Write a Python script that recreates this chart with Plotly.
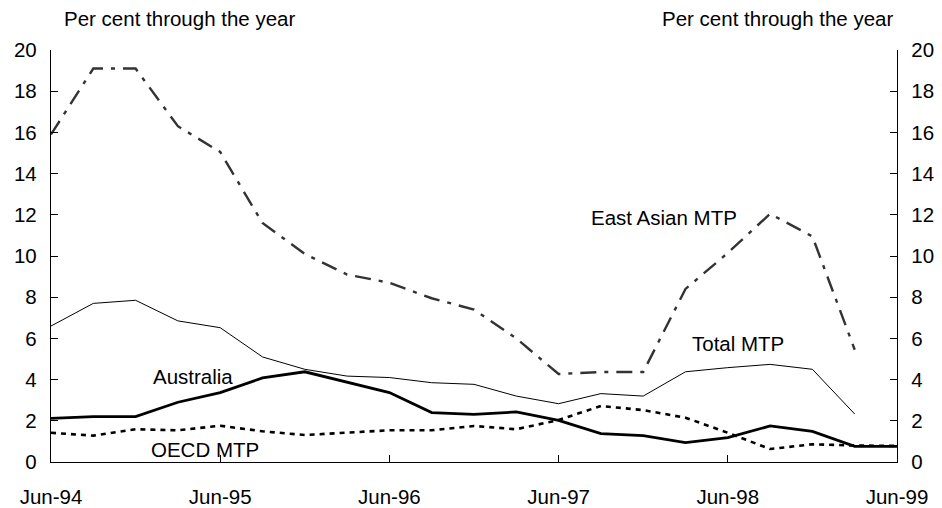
import plotly.graph_objects as go

quarters = ["Jun-94", "Sep-94", "Dec-94", "Mar-95", "Jun-95", "Sep-95", "Dec-95", "Mar-96",
            "Jun-96", "Sep-96", "Dec-96", "Mar-97", "Jun-97", "Sep-97", "Dec-97", "Mar-98",
            "Jun-98", "Sep-98", "Dec-98", "Mar-99", "Jun-99"]
tick_labels = ["Jun-94", "Jun-95", "Jun-96", "Jun-97", "Jun-98", "Jun-99"]

east_asian = [15.9, 19.1, 19.1, 16.3, 15.05, 11.6, 10.1, 9.1, 8.7, 7.95, 7.4, 6.0, 4.27,
              4.37, 4.37, 8.4, 10.15, 12.05, 10.95, 5.45]
total_mtp = [6.6, 7.7, 7.85, 6.85, 6.52, 5.1, 4.5, 4.17, 4.1, 3.85, 3.77, 3.2, 2.83,
             3.32, 3.2, 4.38, 4.58, 4.74, 4.5, 2.33]
australia = [2.12, 2.2, 2.2, 2.9, 3.37, 4.08, 4.38, 3.88, 3.37, 2.4, 2.31, 2.43, 2.02,
             1.38, 1.28, 0.94, 1.18, 1.75, 1.49, 0.76, 0.76]
oecd_mtp = [1.42, 1.28, 1.59, 1.54, 1.76, 1.49, 1.31, 1.42, 1.54, 1.54, 1.75, 1.59, 2.04,
            2.72, 2.52, 2.15, 1.42, 0.63, 0.86, 0.8, 0.78]

FONT = "Liberation Sans, Arial, sans-serif"
FS = 20.5

fig = go.Figure()
fig.add_trace(go.Scatter(x=quarters[:len(east_asian)], y=east_asian, mode="lines",
                         line=dict(color="#333333", width=2.4, dash="16px,8px,4px,8px"),
                         name="East Asian MTP"))
fig.add_trace(go.Scatter(x=quarters[:len(total_mtp)], y=total_mtp, mode="lines",
                         line=dict(color="black", width=1), name="Total MTP"))
fig.add_trace(go.Scatter(x=quarters, y=australia, mode="lines",
                         line=dict(color="black", width=2.8), name="Australia"))
fig.add_trace(go.Scatter(x=quarters, y=oecd_mtp, mode="lines",
                         line=dict(color="black", width=2.6, dash="5px,5px"),
                         name="OECD MTP"))
# invisible trace to activate right axis
fig.add_trace(go.Scatter(x=quarters, y=oecd_mtp, yaxis="y2", mode="lines",
                         line=dict(width=0), opacity=0, hoverinfo="skip", showlegend=False))

axis_common = dict(showline=True, linecolor="black", linewidth=1.3, ticks="inside",
                   ticklen=7, tickcolor="black", showgrid=False, zeroline=False,
                   automargin=False, tickfont=dict(size=FS))

# page body has an 8px margin, so the figure is sized to fit the window after it
fig.update_layout(
    width=934, height=500,
    margin=dict(l=43, r=45, t=42, b=46),
    paper_bgcolor="white", plot_bgcolor="white",
    showlegend=False,
    font=dict(family=FONT, size=FS, color="black"),
    xaxis=dict(type="category", categoryorder="array", categoryarray=quarters,
               range=[0, 20], tickmode="array", tickvals=tick_labels, ticktext=tick_labels,
               ticklabelstandoff=16, **axis_common),
    yaxis=dict(range=[0, 20], dtick=2, ticklabelstandoff=9, **axis_common),
    yaxis2=dict(range=[0, 20], dtick=2, overlaying="y", side="right",
                ticklabelstandoff=9, **axis_common),
    annotations=[
        dict(text="Per cent through the year", xref="paper", yref="paper", x=0.0125, y=1.0,
             yshift=32, xanchor="left", yanchor="middle", showarrow=False, font=dict(size=FS)),
        dict(text="Per cent through the year", xref="paper", yref="paper", x=0.999, y=1.0,
             yshift=32, xanchor="right", yanchor="middle", showarrow=False, font=dict(size=FS)),
        dict(text="East Asian MTP", x="Jun-98", y=11.85, xshift=-64, showarrow=False,
             font=dict(size=FS)),
        dict(text="Total MTP", x="Jun-98", y=5.76, xshift=10, showarrow=False,
             font=dict(size=FS)),
        dict(text="Australia", x="Mar-95", y=4.14, xshift=15, showarrow=False,
             font=dict(size=FS)),
        dict(text="OECD MTP", x="Jun-95", y=0.63, xshift=-15, showarrow=False,
             font=dict(size=FS)),
    ],
)

fig.write_html("out.html")
